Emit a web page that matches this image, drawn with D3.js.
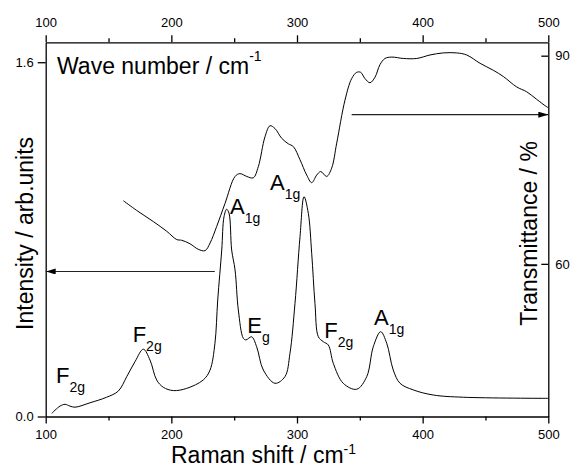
<!DOCTYPE html>
<html>
<head>
<meta charset="utf-8">
<script src="https://cdn.jsdelivr.net/npm/d3@7"></script>
<style>
  body { margin: 0; background: #fff; }
  svg { font-family: "Liberation Sans", Arial, sans-serif; }
</style>
</head>
<body>
<script>
// Raman spectrum (left axis)
const ramanShift = [104.8, 111.4, 115.4, 119.3, 123.3, 135.3, 148.5, 157.8, 164.5, 171.1, 177.7, 183.0, 188.3, 193.6, 201.6, 212.2, 225.4, 230.8, 234.7, 236.9, 240.1, 241.9, 244.0, 245.9, 248.0, 250.7, 253.3, 257.3, 259.4, 263.9, 267.9, 273.2, 282.5, 290.4, 294.4, 298.4, 302.4, 305.6, 309.0, 311.7, 314.3, 317.0, 320.9, 324.9, 328.9, 336.8, 347.5, 355.5, 360.7, 366.6, 371.4, 376.6, 382.0, 392.6, 408.5, 432.4, 500]
const ramanIntensity = [0.014, 0.047, 0.055, 0.047, 0.042, 0.062, 0.087, 0.115, 0.180, 0.248, 0.304, 0.255, 0.165, 0.132, 0.117, 0.127, 0.165, 0.210, 0.331, 0.526, 0.752, 0.902, 0.936, 0.918, 0.752, 0.662, 0.481, 0.353, 0.346, 0.360, 0.315, 0.210, 0.150, 0.180, 0.285, 0.511, 0.812, 0.993, 0.918, 0.737, 0.511, 0.360, 0.338, 0.323, 0.240, 0.150, 0.123, 0.180, 0.315, 0.383, 0.331, 0.210, 0.150, 0.120, 0.097, 0.087, 0.082]

// IR transmittance (right axis)
const irWave = [161.8, 172.4, 185.6, 196.3, 204.3, 208.2, 214.8, 221.4, 226.8, 230.8, 236.1, 242.7, 250.7, 254.6, 260.0, 265.2, 269.2, 274.5, 278.5, 282.5, 287.8, 293.1, 297.1, 302.4, 307.7, 311.7, 315.7, 318.9, 323.6, 327.6, 331.6, 338.2, 343.5, 347.5, 350.7, 354.1, 358.1, 362.1, 366.0, 370.0, 375.4, 384.6, 395.3, 405.8, 416.4, 427.1, 435.1, 445.7, 456.2, 464.2, 474.8, 482.8, 490.8, 498.2, 500]
const irTrans = [69.1, 67.7, 66.1, 64.7, 63.5, 63.4, 62.9, 62.1, 61.9, 63.0, 65.4, 68.7, 72.6, 73.0, 72.6, 72.4, 74.0, 78.3, 79.9, 79.5, 78.1, 77.3, 76.9, 75.0, 72.8, 71.7, 72.8, 73.3, 72.6, 73.8, 77.4, 83.6, 86.7, 87.6, 87.6, 86.7, 86.1, 86.9, 88.7, 89.6, 89.8, 89.6, 89.6, 90.1, 90.4, 90.4, 90.1, 88.9, 87.9, 87.0, 85.5, 84.8, 83.7, 82.7, 82.5]

// axes
const xMajor = [100, 200, 300, 400, 500]
const xMinor = [150, 250, 350, 450]
const yLeftTicks = [0, 1.6]
const yRightTicks = [60, 90]

// peak labels: position (x, intensity), letter, subscript
const peakX = [108.2, 169.2, 246.7, 278.5, 260.4, 321.7, 361.3]
const peakY = [0.150, 0.338, 0.914, 1.025, 0.376, 0.353, 0.415]
const peakMain = ["F", "F", "A", "A", "E", "F", "A"]
const peakSub = ["2g", "2g", "1g", "1g", "g", "2g", "1g"]

// arrows: from x, to x, transmittance level
const arrowFrom = [234.6, 343.5]
const arrowTo = [100, 500]
const arrowLevel = [58.9, 81.5]

const W = 573, H = 468
const mLeft = 45.7, mRight = 548.3, mTop = 42.3, mBottom = 416.5

const svg = d3.select("body").append("svg")
  .attr("width", W).attr("height", H)

const x = d3.scaleLinear().domain([100, 500]).range([mLeft, mRight])
const yL = d3.scaleLinear().domain([0, 1.69]).range([mBottom, mTop])
const yR = d3.scaleLinear().domain([38, 91.93]).range([mBottom, mTop])

function styleAxis(g) {
  g.attr("font-family", null)
  g.selectAll("path").attr("stroke", "#000").attr("stroke-width", 1.3)
  g.selectAll("line").attr("stroke", "#000").attr("stroke-width", 1.3)
  g.selectAll("text").attr("fill", "#000").style("font-size", "13px")
}

// bottom
svg.append("g").attr("transform", `translate(0,${mBottom})`)
  .call(d3.axisBottom(x).tickValues(xMajor).tickSize(7).tickPadding(6.5).tickSizeOuter(0).tickFormat(d3.format("d")))
  .call(styleAxis)
svg.append("g").attr("transform", `translate(0,${mBottom})`)
  .call(d3.axisBottom(x).tickValues(xMinor).tickSize(4).tickSizeOuter(0).tickFormat(""))
  .call(styleAxis).select("path").remove()
// top
svg.append("g").attr("transform", `translate(0,${mTop})`)
  .call(d3.axisTop(x).tickValues(xMajor).tickSize(7).tickPadding(8).tickSizeOuter(0).tickFormat(d3.format("d")))
  .call(styleAxis)
svg.append("g").attr("transform", `translate(0,${mTop})`)
  .call(d3.axisTop(x).tickValues(xMinor).tickSize(4).tickSizeOuter(0).tickFormat(""))
  .call(styleAxis).select("path").remove()
// left
svg.append("g").attr("transform", `translate(${mLeft},0)`)
  .call(d3.axisLeft(yL).tickValues(yLeftTicks).tickSize(8).tickPadding(4).tickSizeOuter(0).tickFormat(d3.format(".1f")))
  .call(styleAxis)
// right (ticks inward)
svg.append("g").attr("transform", `translate(${mRight},0)`)
  .call(d3.axisRight(yR).tickValues(yRightTicks).tickSize(-7).tickPadding(7).tickSizeOuter(0).tickFormat(d3.format("d")))
  .call(styleAxis)

// curves
const lineR = d3.line().x(d => x(d[0])).y(d => yL(d[1])).curve(d3.curveCatmullRom.alpha(0.5))
const lineT = d3.line().x(d => x(d[0])).y(d => yR(d[1])).curve(d3.curveCatmullRom.alpha(0.5))

svg.append("path")
  .datum(d3.zip(ramanShift, ramanIntensity))
  .attr("d", lineR).attr("fill", "none").attr("stroke", "#000").attr("stroke-width", 1)
svg.append("path")
  .datum(d3.zip(irWave, irTrans))
  .attr("d", lineT).attr("fill", "none").attr("stroke", "#000").attr("stroke-width", 1)

// arrows
svg.append("defs").append("marker")
  .attr("id", "head").attr("viewBox", "0 0 10 6").attr("refX", 10).attr("refY", 3)
  .attr("markerWidth", 10).attr("markerHeight", 6).attr("markerUnits", "userSpaceOnUse")
  .attr("orient", "auto")
  .append("path").attr("d", "M0,0 L10,3 L0,6 Z").attr("fill", "#000")

svg.selectAll(".arrow").data(d3.range(arrowFrom.length)).enter()
  .append("line").attr("class", "arrow")
  .attr("x1", i => x(arrowFrom[i])).attr("x2", i => x(arrowTo[i]))
  .attr("y1", i => yR(arrowLevel[i])).attr("y2", i => yR(arrowLevel[i]))
  .attr("stroke", "#222").attr("stroke-width", 1.2)
  .attr("marker-end", "url(#head)")

// peak labels
const lab = svg.selectAll(".peak").data(d3.range(peakX.length)).enter()
  .append("text").attr("class", "peak")
  .attr("x", i => x(peakX[i])).attr("y", i => yL(peakY[i]))
  .style("font-size", "22px")
lab.append("tspan").text(i => peakMain[i])
lab.append("tspan").attr("dy", 9).style("font-size", "14px").text(i => peakSub[i])

// titles
const tB = svg.append("text").attr("x", 171).attr("y", 463).style("font-size", "23px")
tB.append("tspan").text("Raman shift / cm")
tB.append("tspan").attr("dy", -9).style("font-size", "14px").text("-1")

const tW = svg.append("text").attr("x", 57).attr("y", 73.5).style("font-size", "23px")
tW.append("tspan").text("Wave number / cm")
tW.append("tspan").attr("dy", -13).style("font-size", "14px").text("-1")

svg.append("text")
  .attr("transform", `translate(33,${(mTop + mBottom) / 2 + 4}) rotate(-90)`)
  .attr("text-anchor", "middle").style("font-size", "23px")
  .text("Intensity / arb.units")

svg.append("text")
  .attr("transform", `translate(537,${(mTop + mBottom) / 2 + 4}) rotate(-90)`)
  .attr("text-anchor", "middle").style("font-size", "23px")
  .text("Transmittance / %")
</script>
</body>
</html>
